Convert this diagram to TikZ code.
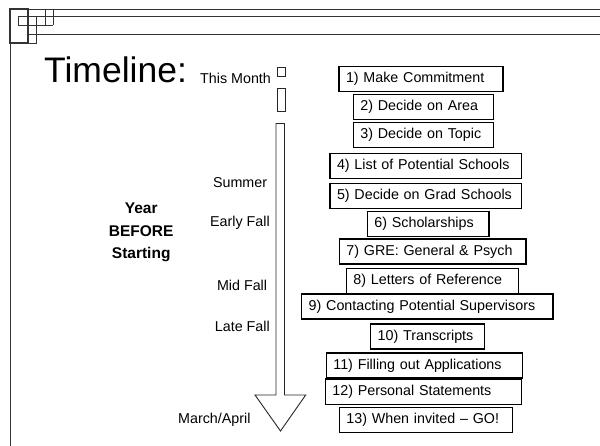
\documentclass[tikz,border=0pt]{standalone}
\usepackage{fontspec}
\setmainfont{Liberation Sans}
\usepackage{tikz}
\tikzstyle{stepbox} = [rectangle, draw=black, line width=1.4pt, minimum height=25pt, inner xsep=7pt, inner ysep=0pt, align=left, anchor=west, font=\fontsize{14.3}{17}\selectfont]
\tikzstyle{season} = [anchor=east, inner sep=0pt, font=\fontsize{14.3}{17}\selectfont]
\tikzstyle{frame} = [line width=0.8pt, draw=black!80]
\tikzstyle{bar} = [line width=0.9pt, draw=black!85]

\begin{document}
\begin{tikzpicture}[x=1pt, y=-1pt]
\useasboundingbox (0,0) rectangle (600,446);

% corner ornament and frame
\draw [frame] (10,9) -- (600,9);
\draw [frame] (18,16) -- (600,16);
\draw [frame] (28,34) -- (600,34);
\draw [frame] (10,9) -- (10,446);
\draw [frame, line width=1.2pt] (10,9) rectangle (28,43);
\draw [frame] (18,16) rectangle (28,25);
\draw [frame] (18,25) -- (53,25);
\draw [frame] (28,43) -- (36,43) -- (36,16);
\draw [frame] (45,9) -- (45,25);
\draw [frame] (53,9) -- (53,25);

% title
\node (title) [anchor=base west, inner sep=0pt, font=\fontsize{35.5}{40}\selectfont] at (44,83) {Timeline:};
\node (month) [anchor=base west, inner sep=0pt, font=\fontsize{14.3}{17}\selectfont] at (200,83.3) {This Month};

% time bar
\draw [bar] (277,67) rectangle (285,76);
\draw [bar] (277,88.5) rectangle (285,111.5);
\draw [bar] (276,123.5) -- (284.5,123.5) -- (284.5,395) -- (305.7,395) -- (280.5,431) -- (255,395) -- (276,395) -- cycle;

% seasons
\node (summer) [season] at (267.3,182.7) {Summer};
\node (early) [season] at (270,223.3) {Early Fall};
\node (mid) [season] at (267.3,285) {Mid Fall};
\node (late) [season] at (270,326) {Late Fall};
\node (march) [season] at (250.7,420) {March/April};

\node (year) [align=center, inner sep=0pt, font=\fontsize{15.5}{22.5}\selectfont\bfseries] at (141.2,232.7) {Year\\BEFORE\\Starting};

% steps
\node (s1) [stepbox, text width=150pt] at (338.3,79.2) {1) Make Commitment};
\node (s2) [stepbox, text width=126pt] at (352.7,106.8) {2) Decide on Area};
\node (s3) [stepbox, text width=126pt] at (352.7,135.2) {3) Decide on Topic};
\node (s4) [stepbox, text width=177.7pt] at (329.3,166) {4) List of Potential Schools};
\node (s5) [stepbox, text width=177.7pt] at (329.3,195.8) {5) Decide on Grad Schools};
\node (s6) [stepbox, text width=107.7pt] at (366.7,223.8) {6) Scholarships};
\node (s7) [stepbox, text width=172.7pt] at (338.7,251.7) {7) GRE: General \& Psych};
\node (s8) [stepbox, text width=158.3pt] at (345.7,281.3) {8) Letters of Reference};
\node (s9) [stepbox, text width=237.3pt] at (301,306.7) {9) Contacting Potential Supervisors};
\node (s10) [stepbox, text width=100pt] at (370,336.5) {10) Transcripts};
\node (s11) [stepbox, text width=182pt] at (325.7,365.5) {11) Filling out Applications};
\node (s12) [stepbox, text width=182pt] at (324.7,391.7) {12) Personal Statements};
\node (s13) [stepbox, text width=159pt] at (338.7,420.2) {13) When invited -- GO!};
\end{tikzpicture}
\end{document}
